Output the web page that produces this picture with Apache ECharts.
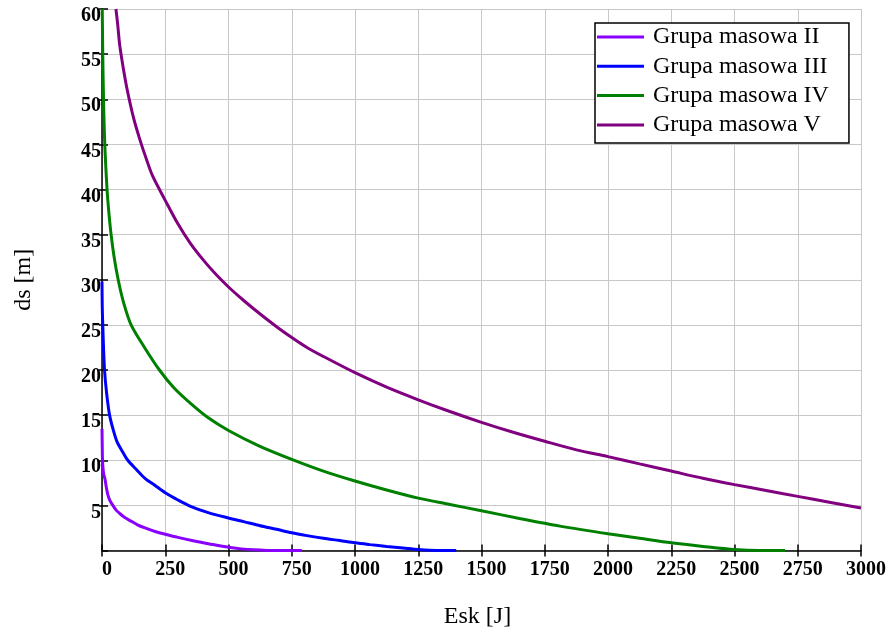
<!DOCTYPE html>
<html>
<head>
<meta charset="utf-8">
<script src="https://cdn.jsdelivr.net/npm/echarts@6/dist/echarts.min.js"></script>
<style>html,body{margin:0;padding:0;background:#fff;}#c{width:890px;height:634px;}</style>
</head>
<body>
<div id="c"></div>
<script>
// Legend names
const seriesNames = ['Grupa masowa II', 'Grupa masowa III', 'Grupa masowa IV', 'Grupa masowa V'];
const seriesColors = ['#8a00ff', '#0000ff', '#008000', '#800080'];

// Grupa masowa II
const eII  = [0, 1, 2, 5, 8, 12, 17, 23, 32, 43, 55, 70, 90, 115, 140, 170, 210, 250, 300, 360, 430, 500, 550, 600, 650, 700, 790];
const dsII = [13.5, 11.5, 10, 8.8, 8.3, 7.9, 7, 6.2, 5.5, 5, 4.5, 4.1, 3.65, 3.25, 2.85, 2.5, 2.1, 1.8, 1.45, 1.08, 0.7, 0.35, 0.18, 0.07, 0.01, 0, 0];

// Grupa masowa III
const eIII  = [0, 1, 3, 6, 10, 18, 30, 45, 60, 80, 102, 135, 170, 210, 250, 300, 350, 420, 500, 560, 625, 690, 750, 810, 875, 940, 1000, 1060, 1125, 1190, 1250, 1325, 1400];
const dsIII = [29.8, 27, 25, 22.5, 20, 17.5, 15, 13.3, 12, 11, 10, 9, 8, 7.2, 6.4, 5.6, 4.9, 4.2, 3.6, 3.2, 2.75, 2.35, 1.96, 1.65, 1.35, 1.1, 0.85, 0.65, 0.45, 0.27, 0.1, 0, 0];

// Grupa masowa IV
const eIV  = [1, 3, 6, 11, 20, 27, 36, 48, 64, 85, 115, 168, 227, 285, 350, 420, 500, 620, 750, 875, 1000, 1125, 1250, 1375, 1500, 1650, 1810, 2000, 2125, 2250, 2375, 2500, 2600, 2700];
const dsIV = [60, 55, 50, 45, 40, 37.5, 35, 32.5, 30, 27.5, 25, 22.5, 20, 18, 16.3, 14.7, 13.3, 11.6, 10.1, 8.8, 7.7, 6.7, 5.8, 5.1, 4.4, 3.55, 2.7, 1.85, 1.35, 0.85, 0.45, 0.1, 0, 0];

// Grupa masowa V
const eV  = [55, 62, 70, 85, 100, 125, 150, 175, 200, 250, 300, 350, 400, 450, 500, 560, 625, 690, 750, 810, 875, 1000, 1125, 1250, 1375, 1500, 1625, 1750, 1875, 2000, 2125, 2250, 2375, 2500, 2625, 2750, 2875, 3000];
const dsV = [60, 58.3, 56, 53.3, 51, 47.9, 45.5, 43.4, 41.5, 38.8, 36.2, 34.0, 32.2, 30.6, 29.2, 27.7, 26.2, 24.8, 23.6, 22.5, 21.5, 19.7, 18.1, 16.7, 15.4, 14.2, 13.1, 12.1, 11.15, 10.4, 9.6, 8.8, 8.0, 7.3, 6.65, 6.0, 5.35, 4.7];

// Axes
const xMin = 0, xMax = 3000, xStep = 250;
const yMin = 0, yMax = 60, yStep = 5;
const xTitle = 'Esk [J]';
const yTitle = 'ds [m]';

function pairs(xs, ys) { return xs.map((x, i) => [x, ys[i]]); }
const allData = [pairs(eII, dsII), pairs(eIII, dsIII), pairs(eIV, dsIV), pairs(eV, dsV)];

const serif = 'Liberation Serif, Times New Roman, serif';
const chart = echarts.init(document.getElementById('c'), null, { renderer: 'canvas' });

const tickStyle = { color: '#000', width: 1.5 };
const lblFont = { fontFamily: serif, fontSize: 20, fontWeight: 'bold', color: '#000' };
chart.setOption({
  animation: false,
  backgroundColor: '#fff',
  grid: { left: 102, right: 29, top: 9, bottom: 83.5, containLabel: false },
  legend: {
    data: seriesNames,
    orient: 'vertical',
    left: 595, top: 23,
    padding: [2, 20, 6, 2],
    itemGap: 5.3,
    itemWidth: 47, itemHeight: 3,
    icon: 'rect',
    backgroundColor: '#fff',
    borderColor: '#000', borderWidth: 1.5,
    textStyle: { fontFamily: serif, fontSize: 24, color: '#000', padding: [0, 0, 0, 4] }
  },
  xAxis: [{
    type: 'value', min: xMin, max: xMax, interval: xStep,
    name: xTitle, nameLocation: 'middle', nameGap: 54,
    nameTextStyle: { fontFamily: serif, fontSize: 24, color: '#000', padding: [0, 8, 0, 0] },
    axisLine: { show: true, onZero: false, lineStyle: { color: '#000', width: 1.5 } },
    axisTick: { show: true, length: 6, lineStyle: tickStyle },
    axisLabel: {
      margin: 9,
      formatter: v => '{a|' + String(v) + '}',
      rich: { a: Object.assign({ padding: [0, 0, 0, 10] }, lblFont) }
    },
    splitLine: { show: true, lineStyle: { color: '#c8c8c8', width: 1 } }
  }, {
    type: 'value', min: xMin, max: xMax, interval: xStep, position: 'bottom',
    axisLine: { show: false },
    axisTick: { show: true, inside: true, length: 6, lineStyle: tickStyle },
    axisLabel: { show: false }, splitLine: { show: false }
  }],
  yAxis: [{
    type: 'value', min: yMin, max: yMax, interval: yStep,
    name: yTitle, nameLocation: 'middle', nameGap: 66,
    nameTextStyle: { fontFamily: serif, fontSize: 24, color: '#000' },
    axisLine: { show: true, onZero: false, lineStyle: { color: '#000', width: 1.5 } },
    axisTick: { show: true, length: 3, lineStyle: tickStyle },
    axisLabel: {
      margin: 1, showMinLabel: false,
      formatter: v => '{a|' + String(v) + '}',
      rich: { a: Object.assign({ padding: [14, 0, 0, 0] }, lblFont) }
    },
    splitLine: { show: true, lineStyle: { color: '#c8c8c8', width: 1 } }
  }, {
    type: 'value', min: yMin, max: yMax, interval: yStep, position: 'left',
    axisLine: { show: false },
    axisTick: { show: true, inside: true, length: 6, lineStyle: tickStyle },
    axisLabel: { show: false }, splitLine: { show: false }
  }],
  series: allData.map((d, i) => ({
    name: seriesNames[i],
    type: 'line',
    data: d,
    smooth: 0.3,
    showSymbol: false,
    symbol: 'none',
    color: seriesColors[i],
    lineStyle: { color: seriesColors[i], width: 3 },
    z: 3
  }))
});
</script>
</body>
</html>
